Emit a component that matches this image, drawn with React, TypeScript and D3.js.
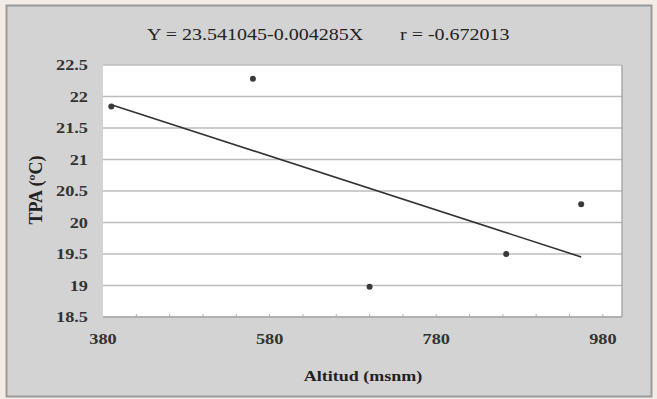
import React from "react";
import * as d3 from "d3";

const altitudes = [390, 560, 700, 864, 954];
const tpa = [21.84, 22.28, 18.98, 19.5, 20.29];
const yTicks = [18.5, 19, 19.5, 20, 20.5, 21, 21.5, 22, 22.5];
const xTicks = [380, 580, 780, 980];
const xMinorTicks = d3.range(420, 1000, 40);
const intercept = 23.541045;
const slope = -0.004285;
const titleText = "Y = 23.541045-0.004285X";
const rText = "r = -0.672013";

export default function App() {
  const W = 657, H = 399;
  const left = 103, right = 622, top = 65, bottom = 317;
  const x = d3.scaleLinear().domain([380, 1003]).range([left, right]);
  const y = d3.scaleLinear().domain([18.5, 22.5]).range([bottom, top]);
  const xs = d3.extent(altitudes) as [number, number];
  const line = d3.line<number>().x((d) => x(d)).y((d) => y(intercept + slope * d));
  const font = "'Liberation Serif', 'Times New Roman', serif";
  const sx = 1.22;
  return (
    <div style={{ position: "absolute", left: 0, top: 0 }}>
      <svg width={W} height={H} style={{ display: "block" }}>
        <rect x={0} y={0} width={W} height={H} fill="#f3ebe6" />
        <rect x={6.5} y={5.5} width={645} height={391} fill="#d3d3d3" stroke="#9a9a9a" strokeWidth={2} />
        <rect x={left} y={top} width={right - left} height={bottom - top} fill="#ffffff" />
        {yTicks.map((t) => (
          <line key={t} x1={left} x2={right} y1={y(t)} y2={y(t)} stroke="#bcbcbc" strokeWidth={1.5} />
        ))}
        {xMinorTicks.map((t) => (
          <line key={t} x1={x(t)} x2={x(t)} y1={bottom} y2={bottom - 3} stroke="#b0b0b0" strokeWidth={1} />
        ))}
        <line x1={right} x2={right} y1={top} y2={bottom} stroke="#a8a8a8" strokeWidth={1.5} />
        <line x1={left} x2={right} y1={bottom} y2={bottom} stroke="#a8a8a8" strokeWidth={1.5} />
        <path d={line(xs) || ""} fill="none" stroke="#333333" strokeWidth={1.6} />
        {altitudes.map((a, i) => (
          <circle key={i} cx={x(a)} cy={y(tpa[i])} r={3} fill="#3a3a3a" />
        ))}
        {yTicks.map((t) => (
          <text key={t} transform={`translate(88,${y(t)}) scale(${sx},1)`} dy="0.35em" textAnchor="end" fontFamily={font} fontSize={15} fontWeight="bold" fill="#333">
            {String(t)}
          </text>
        ))}
        {xTicks.map((t) => (
          <text key={t} transform={`translate(${x(t)},339) scale(${sx},1)`} dy="0.35em" textAnchor="middle" fontFamily={font} fontSize={15} fontWeight="bold" fill="#333">
            {String(t)}
          </text>
        ))}
        <text transform={`translate(363,376) scale(1.2,1)`} dy="0.35em" textAnchor="middle" fontFamily={font} fontSize={15} fontWeight="bold" fill="#222">
          Altitud (msnm)
        </text>
        <text transform="translate(36,190) rotate(-90)" dy="0.35em" textAnchor="middle" fontFamily={font} fontSize={18} fontWeight="bold" fill="#222">
          TPA (ºC)
        </text>
        <text transform={`translate(147,34) scale(1.25,1)`} dy="0.35em" fontFamily={font} fontSize={16} fill="#222">
          {titleText}
        </text>
        <text transform={`translate(400,34) scale(1.25,1)`} dy="0.35em" fontFamily={font} fontSize={16} fill="#222">
          {rText}
        </text>
      </svg>
    </div>
  );
}
